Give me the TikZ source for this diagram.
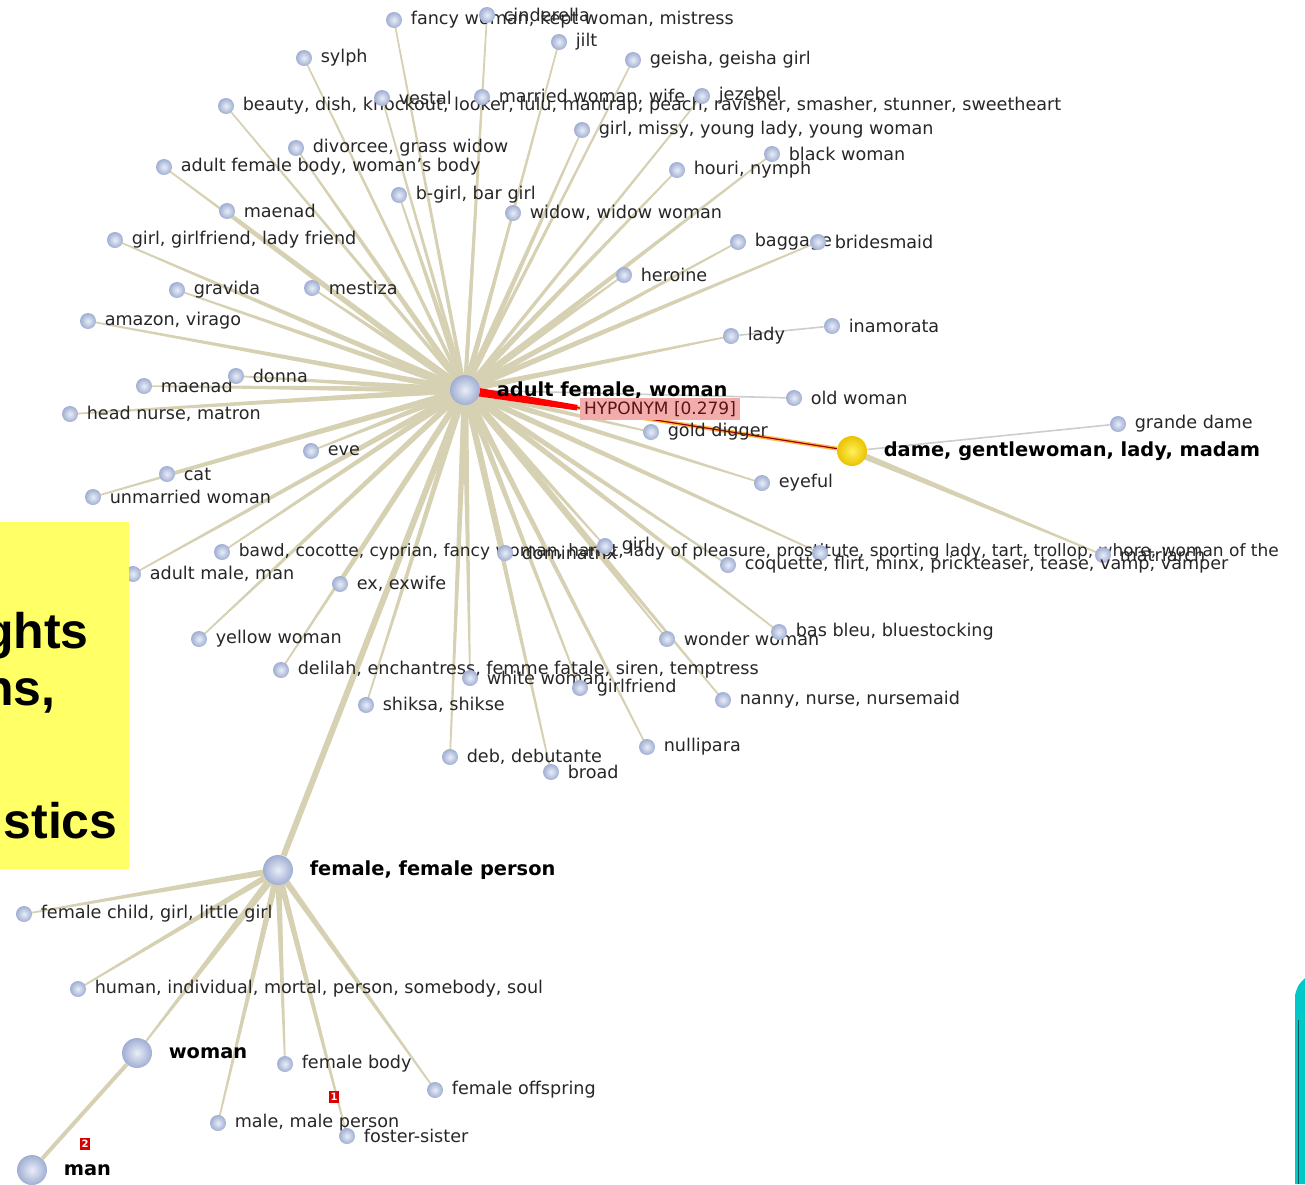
\documentclass[tikz,border=0pt]{standalone}
\usepackage{fontspec}
\setmainfont{DejaVu Sans}
\newfontfamily\slidefont{Liberation Sans}
\usetikzlibrary{calc}
\pgfdeclarelayer{background}
\pgfsetlayers{background,main}

\definecolor{spokecol}{RGB}{214,209,178}
\definecolor{linkcol}{RGB}{205,205,205}
\definecolor{leafin}{RGB}{232,238,248}
\definecolor{leafout}{RGB}{160,174,210}
\definecolor{damein}{RGB}{255,240,90}
\definecolor{dameout}{RGB}{235,195,0}
\definecolor{slideyellow}{RGB}{255,255,102}
\definecolor{tagpink}{RGB}{242,172,172}
\definecolor{tealcol}{RGB}{0,200,200}

\newcommand{\spoke}[3][1.6pt]{%
  \fill[spokecol] ($(#2)!#1!90:(#3)$) -- ($(#3)!0.4pt!-90:(#2)$)
    -- ($(#3)!0.4pt!90:(#2)$) -- ($(#2)!#1!-90:(#3)$) -- cycle;}

\tikzset{
  leaf/.style={circle, shading=radial, inner color=leafin, outer color=leafout,
    minimum size=8pt, inner sep=0pt},
  hubnode/.style={leaf, minimum size=15pt},
  lbl/.style={font=\fontsize{8.8}{9}\selectfont, text=black!85, inner sep=0pt, xshift=4pt},
  bigl/.style={font=\fontsize{9.7}{10}\selectfont\bfseries, inner sep=0pt, xshift=8pt},
  link/.style={linkcol, line width=0.8pt},
  badge/.style={fill=red!85!black, text=white, font=\fontsize{5}{5}\selectfont\bfseries,
    minimum width=5pt, minimum height=6pt, inner sep=0pt}
}

\begin{document}
\begin{tikzpicture}[x=0.5pt, y=-0.5pt]
  \useasboundingbox (0,0) rectangle (1305,1184);

  \node[hubnode, label={[bigl]right:{adult female, woman}}] (hub) at (465,390) {};
  \node[leaf, label={[lbl]right:{fancy woman, kept woman, mistress}}] (fancy) at (394,20) {};
  \node[leaf, label={[lbl]right:{cinderella}}] (cind) at (487,15) {};
  \node[leaf, label={[lbl]right:{jilt}}] (jilt) at (559,42) {};
  \node[leaf, label={[lbl]right:{sylph}}] (sylph) at (304,58) {};
  \node[leaf, label={[lbl]right:{geisha, geisha girl}}] (geisha) at (633,60) {};
  \node[leaf, label={[lbl]right:{beauty, dish, knockout, looker, lulu, mantrap, peach, ravisher, smasher, stunner, sweetheart}}] (beauty) at (226,106) {};
  \node[leaf, label={[lbl]right:{vestal}}] (vestal) at (382,98) {};
  \node[leaf, label={[lbl]right:{married woman, wife}}] (married) at (482,97) {};
  \node[leaf, label={[lbl]right:{jezebel}}] (jez) at (702,96) {};
  \node[leaf, label={[lbl]right:{girl, missy, young lady, young woman}}] (missy) at (582,130) {};
  \node[leaf, label={[lbl]right:{black woman}}] (black) at (772,154) {};
  \node[leaf, label={[lbl]right:{houri, nymph}}] (houri) at (677,170) {};
  \node[leaf, label={[lbl]right:{divorcee, grass widow}}] (divorcee) at (296,148) {};
  \node[leaf, label={[lbl]right:{adult female body, woman's body}}] (afbody) at (164,167) {};
  \node[leaf, label={[lbl]right:{b-girl, bar girl}}] (bgirl) at (399,195) {};
  \node[leaf, label={[lbl]right:{widow, widow woman}}] (widow) at (513,213) {};
  \node[leaf, label={[lbl]right:{maenad}}] (maenadA) at (227,211) {};
  \node[leaf, label={[lbl]right:{girl, girlfriend, lady friend}}] (gfriend) at (115,240) {};
  \node[leaf, label={[lbl]right:{baggage}}] (baggage) at (738,242) {};
  \node[leaf, label={[lbl]right:{bridesmaid}}] (brides) at (818,242) {};
  \node[leaf, label={[lbl]right:{heroine}}] (heroine) at (624,275) {};
  \node[leaf, label={[lbl]right:{gravida}}] (gravida) at (177,290) {};
  \node[leaf, label={[lbl]right:{mestiza}}] (mestiza) at (312,288) {};
  \node[leaf, label={[lbl]right:{amazon, virago}}] (amazon) at (88,321) {};
  \node[leaf, label={[lbl]right:{lady}}] (lady) at (731,336) {};
  \node[leaf, label={[lbl]right:{inamorata}}] (inamor) at (832,326) {};
  \node[leaf, label={[lbl]right:{maenad}}] (maenadB) at (144,386) {};
  \node[leaf, label={[lbl]right:{donna}}] (donna) at (236,376) {};
  \node[leaf, label={[lbl]right:{head nurse, matron}}] (matron) at (70,414) {};
  \node[leaf, label={[lbl]right:{old woman}}] (oldwoman) at (794,398) {};
  \node[leaf, label={[lbl]right:{eve}}] (eve) at (311,451) {};
  \node[leaf, label={[lbl]right:{cat}}] (cat) at (167,474) {};
  \node[leaf, label={[lbl]right:{unmarried woman}}] (unmarried) at (93,497) {};
  \node[leaf, label={[lbl]right:{gold digger}}] (golddig) at (651,432) {};
  \node[hubnode, inner color=damein, outer color=dameout, label={[bigl]right:{dame, gentlewoman, lady, madam}}] (dame) at (852,451) {};
  \node[leaf, label={[lbl]right:{grande dame}}] (grande) at (1118,424) {};
  \node[leaf, label={[lbl]right:{eyeful}}] (eyeful) at (762,483) {};
  \node[leaf, label={[lbl, font=\fontsize{8.5}{9}\selectfont]right:{bawd, cocotte, cyprian, fancy woman, harlot, lady of pleasure, prostitute, sporting lady, tart, trollop, whore, woman of the}}] (bawd) at (222,552) {};
  \node[leaf, label={[lbl]right:{dominatrix}}] (domin) at (505,553) {};
  \node[leaf, label={[lbl]right:{girl}}] (oldgirl) at (605,546) {};
  \node[leaf] (hust) at (820,553) {};
  \node[leaf, label={[lbl]right:{matriarch}}] (matri) at (1103,555) {};
  \node[leaf, label={[lbl]right:{coquette, flirt, minx, prickteaser, tease, vamp, vamper}}] (coquette) at (728,565) {};
  \node[leaf, label={[lbl]right:{adult male, man}}] (adultmale) at (133,574) {};
  \node[leaf, label={[lbl]right:{ex, exwife}}] (exwife) at (340,584) {};
  \node[leaf, label={[lbl]right:{yellow woman}}] (yellow) at (199,639) {};
  \node[leaf, label={[lbl]right:{wonder woman}}] (wonder) at (667,639) {};
  \node[leaf, label={[lbl]right:{bas bleu, bluestocking}}] (basbleu) at (779,632) {};
  \node[leaf, label={[lbl]right:{delilah, enchantress, femme fatale, siren, temptress}}] (delilah) at (281,670) {};
  \node[leaf, label={[lbl]right:{white woman}}] (white) at (470,678) {};
  \node[leaf, label={[lbl]right:{girlfriend}}] (gfriend2) at (580,688) {};
  \node[leaf, label={[lbl]right:{nanny, nurse, nursemaid}}] (nanny) at (723,700) {};
  \node[leaf, label={[lbl]right:{shiksa, shikse}}] (shiksa) at (366,705) {};
  \node[leaf, label={[lbl]right:{nullipara}}] (nullip) at (647,747) {};
  \node[leaf, label={[lbl]right:{deb, debutante}}] (deb) at (450,757) {};
  \node[leaf, label={[lbl]right:{broad}}] (broad) at (551,772) {};

  \node[hubnode, label={[bigl]right:{female, female person}}] (female) at (278,870) {};
  \node[leaf, label={[lbl]right:{female child, girl, little girl}}] (fchild) at (24,914) {};
  \node[leaf, label={[lbl]right:{human, individual, mortal, person, somebody, soul}}] (human) at (78,989) {};
  \node[hubnode, label={[bigl]right:{woman}}] (woman) at (137,1053) {};
  \node[leaf, label={[lbl]right:{female body}}] (fbody) at (285,1064) {};
  \node[leaf, label={[lbl]right:{female offspring}}] (foffs) at (435,1090) {};
  \node[leaf, label={[lbl]right:{male, male person}}] (male) at (218,1123) {};
  \node[leaf, label={[lbl]right:{foster-sister}}] (foster) at (347,1136) {};
  \node[hubnode, label={[bigl]right:{man}}] (man) at (32,1170) {};
  \node[badge] (one) at (334,1097) {1};
  \node[badge] (two) at (85,1144) {2};

  \node[fill=tagpink, font=\fontsize{8.5}{9}\selectfont, text={rgb,255:red,90;green,20;blue,20},
    inner xsep=2pt, inner ysep=1.5pt] (hyp) at (660,409) {HYPONYM [0.279]};

  \begin{pgfonlayer}{background}
    \foreach \n in {fancy,cind,jilt,sylph,geisha,beauty,vestal,married,jez}
      {\spoke[1pt]{hub}{\n}}
    \foreach \n in {missy,black,houri,divorcee,afbody,bgirl,widow,maenadA,gfriend,
      baggage,brides,heroine,gravida,mestiza,amazon,lady,donna,maenadB,matron,
      eve,cat,unmarried,golddig,eyeful,bawd,domin,oldgirl,hust,coquette,adultmale,
      exwife,yellow,wonder,basbleu,delilah,white,gfriend2,nanny,shiksa,nullip,deb,broad}
      {\spoke{hub}{\n}}
    \foreach \n in {fchild,human,fbody,foffs,male,foster}
      {\spoke{female}{\n}}
    \spoke[2pt]{female}{woman}
    \spoke{dame}{matri}
    \draw[spokecol, line width=3pt] (hub) -- (female);
    \draw[spokecol, line width=2pt] (woman) -- (man);
    \draw[link] (hub) -- (oldwoman);
    \draw[link] (lady) -- (inamor);
    \draw[link] (dame) -- (grande);
    \coordinate (redend) at ($(hub)!0.29!(dame)$);
    \draw[orange!80!yellow, line width=2pt, opacity=0.7] (hub) -- (dame);
    \draw[red!60!black, line width=0.6pt] (hub) -- (dame);
    \fill[red] ($(hub)!2.2pt!90:(dame)$) -- ($(redend)!1.4pt!-90:(hub)$)
      -- ($(redend)!1.4pt!90:(hub)$) -- ($(hub)!2.2pt!-90:(dame)$) -- cycle;
  \end{pgfonlayer}

  \begin{scope}
    \clip (0,522) rectangle (129,869);
    \fill[slideyellow] (0,522) rectangle (129,869);
    \node[font=\slidefont\bfseries\fontsize{25}{25}\selectfont, anchor=base east, inner sep=0pt] (ghts) at (89,648) {ghts};
    \node[font=\slidefont\bfseries\fontsize{25}{25}\selectfont, anchor=base east, inner sep=0pt] (ns) at (56,705) {ns,};
    \node[font=\slidefont\bfseries\fontsize{25}{25}\selectfont, anchor=base east, inner sep=0pt] (stics) at (118,838) {stics};
  \end{scope}

  \fill[tealcol] (1305,978) .. controls (1298,985) .. (1295,995) -- (1295,1184) -- (1305,1184) -- cycle;
  \draw[teal!70!black, line width=0.3pt] (1298,1020) -- (1298,1184);
\end{tikzpicture}
\end{document}
